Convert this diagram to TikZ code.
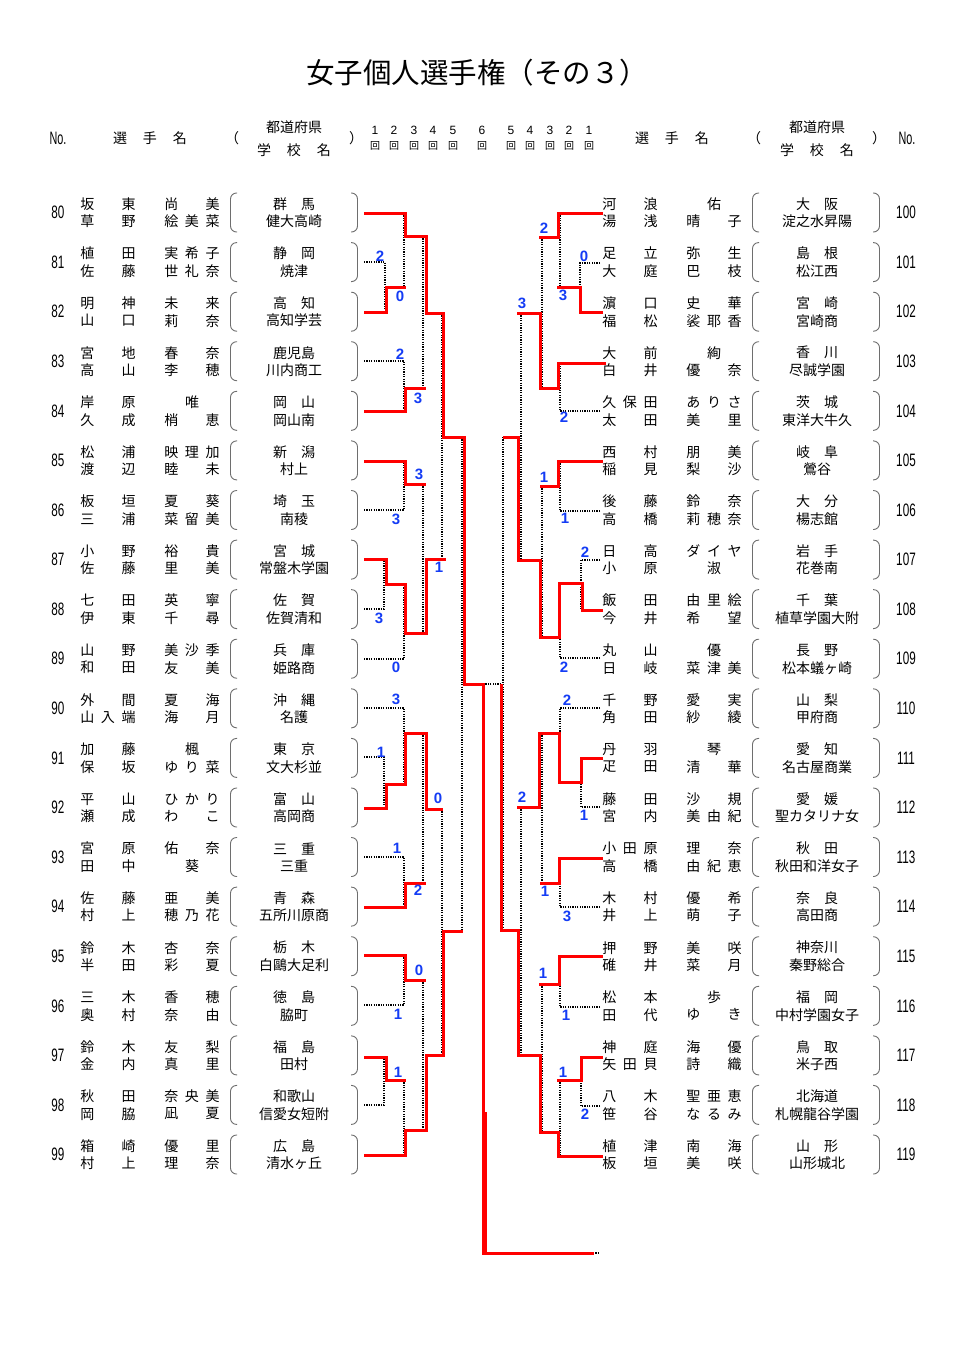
\documentclass[tikz,border=0pt]{standalone}
\usepackage{fontspec}
\setmainfont{Liberation Sans}
\newfontfamily\jp{Noto Sans CJK JP}
\definecolor{scoreblue}{RGB}{20,60,245}
\definecolor{bracegray}{RGB}{110,110,110}
\newcommand\slots[3]{\makebox[20.6pt]{#1}\makebox[20.6pt]{#2}\makebox[20.6pt]{#3}}
\newcommand\NL[8]{\node[nm] (#1s) at (108,#2) {\slots{#3}{#4}{#5}};\node[nm] (#1g) at (192,#2) {\slots{#6}{#7}{#8}};}
\newcommand\NR[8]{\node[nm] (#1s) at (630,#2) {\slots{#3}{#4}{#5}};\node[nm] (#1g) at (714,#2) {\slots{#6}{#7}{#8}};}
\newcommand\EL[4]{%
  \node[numf] (n#1) at (58,#2) {\scalebox{0.65}[1]{#1}};
  \node[nm] (p#1) at (294,#2-8.5) {#3};
  \node[nm] (s#1) at (294,#2+9) {#4};
  \draw[brc] (237,#2-19.5) -- (230.5,#2-19.5) -- (230.5,#2+19.5) -- (237,#2+19.5);
  \draw[brc] (351,#2-19.5) -- (357.5,#2-19.5) -- (357.5,#2+19.5) -- (351,#2+19.5);}
\newcommand\ER[4]{%
  \node[numf] (n#1) at (906,#2) {\scalebox{0.65}[1]{#1}};
  \node[nm] (p#1) at (817,#2-8.5) {#3};
  \node[nm] (s#1) at (817,#2+9) {#4};
  \draw[brc] (759,#2-19.5) -- (752.5,#2-19.5) -- (752.5,#2+19.5) -- (759,#2+19.5);
  \draw[brc] (873,#2-19.5) -- (879.5,#2-19.5) -- (879.5,#2+19.5) -- (873,#2+19.5);}
\begin{document}
\begin{tikzpicture}[x=1pt,y=-1pt,
  nm/.style={font=\jp\fontsize{14}{14}\selectfont, inner sep=0pt},
  numf/.style={font=\fontsize{18}{18}\selectfont, inner sep=0pt},
  rd/.style={font=\fontsize{12}{12}\selectfont, inner sep=0pt},
  kai/.style={font=\jp\fontsize{10}{10}\selectfont, inner sep=0pt},
  sc/.style={font=\bfseries\fontsize{15}{15}\selectfont, text=scoreblue, inner sep=0pt},
  win/.style={draw=red, line width=3pt},
  los/.style={draw=black, line width=1.2pt, dash pattern=on 1.2pt off 1.2pt},
  brc/.style={draw=bracegray, line width=0.9pt, rounded corners=6pt}]
\useasboundingbox[fill=white] (0,0) rectangle (980,1350);

% title
\node[font=\jp\fontsize{28.5}{28.5}\selectfont, inner sep=0pt] (title) at (477,73) {女子個人選手権（その３）};

% headers left
\node[numf] (hnoL) at (58,138) {\scalebox{0.6}[1]{No.}};
\node[nm] (hnmL) at (150,138) {選\hspace{16pt}手\hspace{16pt}名};
\node[nm] (hpoL) at (232,138) {（};
\node[nm] (hpcL) at (356,138) {）};
\node[nm] (hprL) at (294,127) {都道府県};
\node[nm] (hscL) at (294,150) {学\hspace{16pt}校\hspace{16pt}名};
% headers right
\node[numf] (hnoR) at (907,138) {\scalebox{0.6}[1]{No.}};
\node[nm] (hnmR) at (672,138) {選\hspace{16pt}手\hspace{16pt}名};
\node[nm] (hpoR) at (754,138) {（};
\node[nm] (hpcR) at (879,138) {）};
\node[nm] (hprR) at (817,127) {都道府県};
\node[nm] (hscR) at (817,150) {学\hspace{16pt}校\hspace{16pt}名};
% round headers
\foreach \xx/\dd [count=\i] in {375/1,394/2,414/3,433/4,453/5,482/6,511/5,530/4,550/3,569/2,589/1}{
  \node[rd] (rn\i) at (\xx,130) {\dd};
  \node[kai] (rk\i) at (\xx,146) {回};
}

% ---------- entries left ----------
\EL{80}{212.5}{群　馬}{健大高崎}
\NL{a80}{204}{坂}{}{東}{尚}{}{美}\NL{b80}{221.5}{草}{}{野}{絵}{美}{菜}
\EL{81}{262.1}{静　岡}{焼津}
\NL{a81}{253.6}{植}{}{田}{実}{希}{子}\NL{b81}{271.1}{佐}{}{藤}{世}{礼}{奈}
\EL{82}{311.7}{高　知}{高知学芸}
\NL{a82}{303.2}{明}{}{神}{未}{}{来}\NL{b82}{320.7}{山}{}{口}{莉}{}{奈}
\EL{83}{361.2}{鹿児島}{川内商工}
\NL{a83}{352.7}{宮}{}{地}{春}{}{奈}\NL{b83}{370.2}{高}{}{山}{李}{}{穂}
\EL{84}{410.8}{岡　山}{岡山南}
\NL{a84}{402.3}{岸}{}{原}{}{唯}{}\NL{b84}{419.8}{久}{}{成}{梢}{}{恵}
\EL{85}{460.4}{新　潟}{村上}
\NL{a85}{451.9}{松}{}{浦}{映}{理}{加}\NL{b85}{469.4}{渡}{}{辺}{睦}{}{未}
\EL{86}{510.0}{埼　玉}{南稜}
\NL{a86}{501.5}{板}{}{垣}{夏}{}{葵}\NL{b86}{519}{三}{}{浦}{菜}{留}{美}
\EL{87}{559.6}{宮　城}{常盤木学園}
\NL{a87}{551.1}{小}{}{野}{裕}{}{貴}\NL{b87}{568.6}{佐}{}{藤}{里}{}{美}
\EL{88}{609.1}{佐　賀}{佐賀清和}
\NL{a88}{600.6}{七}{}{田}{英}{}{寧}\NL{b88}{618.1}{伊}{}{東}{千}{}{尋}
\EL{89}{658.7}{兵　庫}{姫路商}
\NL{a89}{650.2}{山}{}{野}{美}{沙}{季}\NL{b89}{667.7}{和}{}{田}{友}{}{美}
\EL{90}{708.3}{沖　縄}{名護}
\NL{a90}{699.8}{外}{}{間}{夏}{}{海}\NL{b90}{717.3}{山}{入}{端}{海}{}{月}
\EL{91}{757.9}{東　京}{文大杉並}
\NL{a91}{749.4}{加}{}{藤}{}{楓}{}\NL{b91}{766.9}{保}{}{坂}{ゆ}{り}{菜}
\EL{92}{807.5}{富　山}{高岡商}
\NL{a92}{799}{平}{}{山}{ひ}{か}{り}\NL{b92}{816.5}{瀬}{}{成}{わ}{}{こ}
\EL{93}{857.0}{三　重}{三重}
\NL{a93}{848.5}{宮}{}{原}{佑}{}{奈}\NL{b93}{866}{田}{}{中}{}{葵}{}
\EL{94}{906.6}{青　森}{五所川原商}
\NL{a94}{898.1}{佐}{}{藤}{亜}{}{美}\NL{b94}{915.6}{村}{}{上}{穂}{乃}{花}
\EL{95}{956.2}{栃　木}{白鷗大足利}
\NL{a95}{947.7}{鈴}{}{木}{杏}{}{奈}\NL{b95}{965.2}{半}{}{田}{彩}{}{夏}
\EL{96}{1005.8}{徳　島}{脇町}
\NL{a96}{997.3}{三}{}{木}{香}{}{穂}\NL{b96}{1014.8}{奥}{}{村}{奈}{}{由}
\EL{97}{1055.4}{福　島}{田村}
\NL{a97}{1046.9}{鈴}{}{木}{友}{}{梨}\NL{b97}{1064.4}{金}{}{内}{真}{}{里}
\EL{98}{1104.9}{和歌山}{信愛女短附}
\NL{a98}{1096.4}{秋}{}{田}{奈}{央}{美}\NL{b98}{1113.9}{岡}{}{脇}{凪}{}{夏}
\EL{99}{1154.5}{広　島}{清水ヶ丘}
\NL{a99}{1146}{箱}{}{崎}{優}{}{里}\NL{b99}{1163.5}{村}{}{上}{理}{}{奈}

% ---------- entries right ----------
\ER{100}{212.5}{大　阪}{淀之水昇陽}
\NR{a100}{204}{河}{}{浪}{}{佑}{}\NR{b100}{221.5}{湯}{}{浅}{晴}{}{子}
\ER{101}{262.1}{島　根}{松江西}
\NR{a101}{253.6}{足}{}{立}{弥}{}{生}\NR{b101}{271.1}{大}{}{庭}{巴}{}{枝}
\ER{102}{311.7}{宮　崎}{宮崎商}
\NR{a102}{303.2}{濵}{}{口}{史}{}{華}\NR{b102}{320.7}{福}{}{松}{裟}{耶}{香}
\ER{103}{361.2}{香　川}{尽誠学園}
\NR{a103}{352.7}{大}{}{前}{}{絢}{}\NR{b103}{370.2}{白}{}{井}{優}{}{奈}
\ER{104}{410.8}{茨　城}{東洋大牛久}
\NR{a104}{402.3}{久}{保}{田}{あ}{り}{さ}\NR{b104}{419.8}{太}{}{田}{美}{}{里}
\ER{105}{460.4}{岐　阜}{鶯谷}
\NR{a105}{451.9}{西}{}{村}{朋}{}{美}\NR{b105}{469.4}{稲}{}{見}{梨}{}{沙}
\ER{106}{510.0}{大　分}{楊志館}
\NR{a106}{501.5}{後}{}{藤}{鈴}{}{奈}\NR{b106}{519}{高}{}{橋}{莉}{穂}{奈}
\ER{107}{559.6}{岩　手}{花巻南}
\NR{a107}{551.1}{日}{}{高}{ダ}{イ}{ヤ}\NR{b107}{568.6}{小}{}{原}{}{淑}{}
\ER{108}{609.1}{千　葉}{植草学園大附}
\NR{a108}{600.6}{飯}{}{田}{由}{里}{絵}\NR{b108}{618.1}{今}{}{井}{希}{}{望}
\ER{109}{658.7}{長　野}{松本蟻ヶ崎}
\NR{a109}{650.2}{丸}{}{山}{}{優}{}\NR{b109}{667.7}{日}{}{岐}{菜}{津}{美}
\ER{110}{708.3}{山　梨}{甲府商}
\NR{a110}{699.8}{千}{}{野}{愛}{}{実}\NR{b110}{717.3}{角}{}{田}{紗}{}{綾}
\ER{111}{757.9}{愛　知}{名古屋商業}
\NR{a111}{749.4}{丹}{}{羽}{}{琴}{}\NR{b111}{766.9}{疋}{}{田}{清}{}{華}
\ER{112}{807.5}{愛　媛}{聖カタリナ女}
\NR{a112}{799}{藤}{}{田}{沙}{}{規}\NR{b112}{816.5}{宮}{}{内}{美}{由}{紀}
\ER{113}{857.0}{秋　田}{秋田和洋女子}
\NR{a113}{848.5}{小}{田}{原}{理}{}{奈}\NR{b113}{866}{高}{}{橋}{由}{紀}{恵}
\ER{114}{906.6}{奈　良}{高田商}
\NR{a114}{898.1}{木}{}{村}{優}{}{希}\NR{b114}{915.6}{井}{}{上}{萌}{}{子}
\ER{115}{956.2}{神奈川}{秦野総合}
\NR{a115}{947.7}{押}{}{野}{美}{}{咲}\NR{b115}{965.2}{碓}{}{井}{菜}{}{月}
\ER{116}{1005.8}{福　岡}{中村学園女子}
\NR{a116}{997.3}{松}{}{本}{}{歩}{}\NR{b116}{1014.8}{田}{}{代}{ゆ}{}{き}
\ER{117}{1055.4}{鳥　取}{米子西}
\NR{a117}{1046.9}{神}{}{庭}{海}{}{優}\NR{b117}{1064.4}{矢}{田}{貝}{詩}{}{織}
\ER{118}{1104.9}{北海道}{札幌龍谷学園}
\NR{a118}{1096.4}{八}{}{木}{聖}{亜}{恵}\NR{b118}{1113.9}{笹}{}{谷}{な}{る}{み}
\ER{119}{1154.5}{山　形}{山形城北}
\NR{a119}{1146}{植}{}{津}{南}{}{海}\NR{b119}{1163.5}{板}{}{垣}{美}{}{咲}

% ---------- dotted (lost) lines left ----------
\draw[los] (364,262) -| (385,312);
\draw[los] (404,213) -- (404,287);
\draw[los] (364,361) -| (404,411);
\draw[los] (423,236) -- (423,388);
\draw[los] (442,313) -- (442,559);
\draw[los] (364,510) -| (404,461);
\draw[los] (423,484) -- (423,633);
\draw[los] (364,609) -| (384,559);
\draw[los] (364,659) -| (404,584);
\draw[los] (462,437) -- (462,931);
\draw[los] (364,708) -| (404,784);
\draw[los] (364,757) -| (384,808);
\draw[los] (423,733) -- (423,883);
\draw[los] (364,857) -| (404,907);
\draw[los] (442,809) -- (442,1055);
\draw[los] (364,1005) -| (404,955);
\draw[los] (423,980) -- (423,1130);
\draw[los] (364,1105) -| (384,1057);
\draw[los] (404,1080) -- (404,1155);
% ---------- dotted (lost) lines right ----------
\draw[los] (600,263) -| (580,312);
\draw[los] (560,213) -- (560,287);
\draw[los] (600,411) -| (560,363);
\draw[los] (542,237) -- (542,388);
\draw[los] (521,313) -- (521,560);
\draw[los] (600,511) -| (560,461);
\draw[los] (542,486) -- (542,637);
\draw[los] (600,560) -| (581,610);
\draw[los] (600,658) -| (560,583);
\draw[los] (503,437) -- (503,930);
\draw[los] (600,708) -| (560,782);
\draw[los] (600,807) -| (581,758);
\draw[los] (542,733) -- (542,883);
\draw[los] (600,907) -| (560,858);
\draw[los] (521,807) -- (521,1055);
\draw[los] (600,1007) -| (560,956);
\draw[los] (542,984) -- (542,1132);
\draw[los] (600,1106) -| (581,1057);
\draw[los] (560,1080) -- (560,1156);
\draw[los] (501,684) -- (483,684);
\draw[los] (593,1253) -- (600,1253);

% ---------- red (winning) lines left ----------
\draw[win] (364,213) -- (405,213) -- (405,236) -- (426,236) -- (426,313) -- (443,313) -- (443,437) -- (464,437) -- (464,684) -- (483,684) -- (483,1253) -- (594,1253);
\draw[win] (485,1112) -- (485,1253);
\draw[win] (364,312) -- (386,312) -- (386,287) -- (406,287);
\draw[win] (364,411) -- (405,411) -- (405,388) -- (426,388);
\draw[win] (364,461) -- (405,461) -- (405,484) -- (426,484);
\draw[win] (364,559) -- (386,559) -- (386,584) -- (405,584) -- (405,633) -- (426,633) -- (426,559) -- (446,559);
\draw[win] (364,808) -- (386,808) -- (386,784) -- (405,784) -- (405,733) -- (426,733) -- (426,809) -- (443,809);
\draw[win] (364,907) -- (405,907) -- (405,883) -- (426,883);
\draw[win] (364,955) -- (405,955) -- (405,980) -- (426,980);
\draw[win] (364,1057) -- (386,1057) -- (386,1080) -- (406,1080);
\draw[win] (364,1155) -- (405,1155) -- (405,1130) -- (426,1130) -- (426,1055) -- (443,1055) -- (443,931) -- (463,931);
% ---------- red (winning) lines right ----------
\draw[win] (603,213) -- (558,213) -- (558,237) -- (539,237);
\draw[win] (603,312) -- (580,312) -- (580,287) -- (557,287);
\draw[win] (606,363) -- (558,363) -- (558,388) -- (540,388) -- (540,313) -- (517,313);
\draw[win] (603,461) -- (558,461) -- (558,486) -- (540,486);
\draw[win] (603,610) -- (582,610) -- (582,583) -- (559,583) -- (559,637) -- (540,637) -- (540,560) -- (518,560) -- (518,437) -- (503,437);
\draw[win] (603,758) -- (581,758) -- (581,782) -- (559,782) -- (559,733) -- (539,733) -- (539,807) -- (517,807);
\draw[win] (603,858) -- (559,858) -- (559,883) -- (540,883);
\draw[win] (603,956) -- (559,956) -- (559,984) -- (539,984);
\draw[win] (603,1057) -- (581,1057) -- (581,1080) -- (557,1080);
\draw[win] (603,1156) -- (558,1156) -- (558,1132) -- (540,1132) -- (540,1055) -- (518,1055) -- (518,930) -- (501,930) -- (501,684);

% ---------- scores ----------
\node[sc] (s1) at (380,256) {2};
\node[sc] (s2) at (400,296) {0};
\node[sc] (s3) at (400,354) {2};
\node[sc] (s4) at (418,398) {3};
\node[sc] (s5) at (419,474) {3};
\node[sc] (s6) at (396,519) {3};
\node[sc] (s7) at (439,567) {1};
\node[sc] (s8) at (379,618) {3};
\node[sc] (s9) at (396,667) {0};
\node[sc] (s10) at (396,699) {3};
\node[sc] (s11) at (381,752) {1};
\node[sc] (s12) at (438,798) {0};
\node[sc] (s13) at (397,848) {1};
\node[sc] (s14) at (418,890) {2};
\node[sc] (s15) at (419,970) {0};
\node[sc] (s16) at (398,1014) {1};
\node[sc] (s17) at (398,1072) {1};
\node[sc] (t1) at (544,228) {2};
\node[sc] (t2) at (584,256) {0};
\node[sc] (t3) at (522,303) {3};
\node[sc] (t4) at (563,295) {3};
\node[sc] (t5) at (564,417) {2};
\node[sc] (t6) at (544,477) {1};
\node[sc] (t7) at (565,518) {1};
\node[sc] (t8) at (585,552) {2};
\node[sc] (t9) at (564,667) {2};
\node[sc] (t10) at (567,700) {2};
\node[sc] (t11) at (522,797) {2};
\node[sc] (t12) at (584,815) {1};
\node[sc] (t13) at (545,891) {1};
\node[sc] (t14) at (567,916) {3};
\node[sc] (t15) at (543,973) {1};
\node[sc] (t16) at (566,1015) {1};
\node[sc] (t17) at (563,1072) {1};
\node[sc] (t18) at (585,1114) {2};
\end{tikzpicture}
\end{document}
